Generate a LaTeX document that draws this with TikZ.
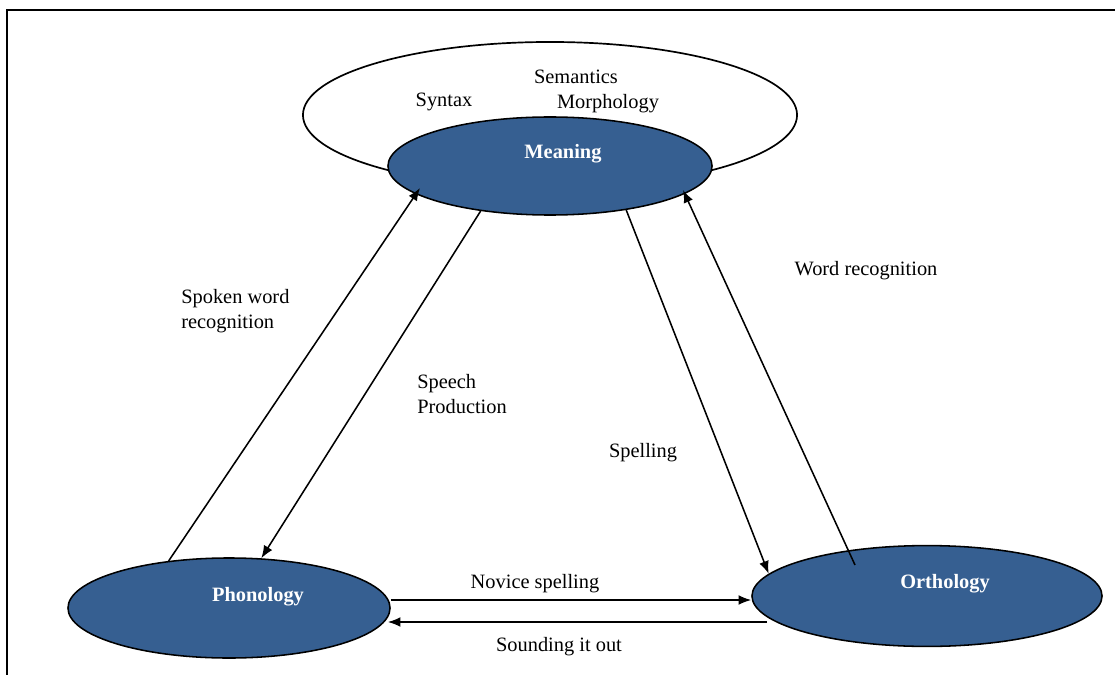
\documentclass[tikz,border=0pt]{standalone}
\usepackage{fontspec}
\setmainfont{Liberation Serif}
\usepackage{tikz}
\usetikzlibrary{shapes.geometric, arrows.meta, positioning, calc}
\definecolor{NodeBlue}{HTML}{365F91}
\tikzset{
  % Ellipse styles
  bubble/.style={ellipse, draw=black, line width=1.1pt, fill=NodeBlue, inner sep=0pt},
  ring/.style={ellipse, draw=black, line width=1.2pt, inner sep=0pt},
  % Text styles
  lbl/.style={font=\fontsize{14.5}{17.8}\selectfont, inner sep=0pt, align=left},
  namelbl/.style={font=\fontsize{14.5}{17.8}\selectfont\bfseries, text=white, inner sep=0pt},
  % Arrow styles
  arrow/.style={-{Latex[length=9pt,width=7pt]}, line width=1.1pt, black},
  frameline/.style={line width=1.3pt, black}
}

\begin{document}
\begin{tikzpicture}[x=0.025cm, y=-0.025cm]
  \useasboundingbox (0,0) rectangle (1115,675);
  % Frame
  \draw[frameline] (7,675) -- (7,10) -- (1115,10);

  % Ellipses
  \node[ring, minimum width=12.35cm, minimum height=3.65cm] (lang) at (550,115) {};
  \node[bubble, minimum width=8.1cm, minimum height=2.45cm] (meaning) at (550,166) {};
  \node[bubble, minimum width=8.05cm, minimum height=2.5cm] (phon) at (229,608) {};
  \node[bubble, minimum width=8.75cm, minimum height=2.52cm] (ortho) at (927,596) {};

  % Names
  \node[namelbl] (meaningtxt) at (563,154) {Meaning};
  \node[namelbl] (phontxt) at (258,597) {Phonology};
  \node[namelbl] (orthotxt) at (945,584) {Orthology};

  % Language parts
  \node[lbl] (sem) at (576,77) {Semantics};
  \node[lbl] (syn) at (444,102) {Syntax};
  \node[lbl] (mor) at (608,104) {Morphology};

  % Routes
  \draw[arrow] (phon.142.7) -- ($(meaning)+(-130,22)$);
  \draw[arrow] (meaning.213) -- (phon.57);
  \draw[arrow] (meaning.-30) -- (ortho.172.5);
  \draw[arrow] ($(ortho)+(-72,-31)$) -- ($(meaning)+(133,24)$);
  \draw[arrow] ($(phon.east)+(0,-8)$) -- ($(phon.east -| ortho.west)+(0,-8)$);
  \draw[arrow] ($(ortho.west)+(16,26)$) -- ($(phon.east)+(-3,14)$);

  % Route labels
  \node[lbl, anchor=west] (spoken) at (181,311) {Spoken word\\recognition};
  \node[lbl, anchor=west] (speech) at (417,394) {Speech\\Production};
  \node[lbl] (spell) at (643,453) {Spelling};
  \node[lbl] (wordrec) at (866,271) {Word recognition};
  \node[lbl] (novice) at (535,584) {Novice spelling};
  \node[lbl] (sound) at (559,647) {Sounding it out};
\end{tikzpicture}
\end{document}
